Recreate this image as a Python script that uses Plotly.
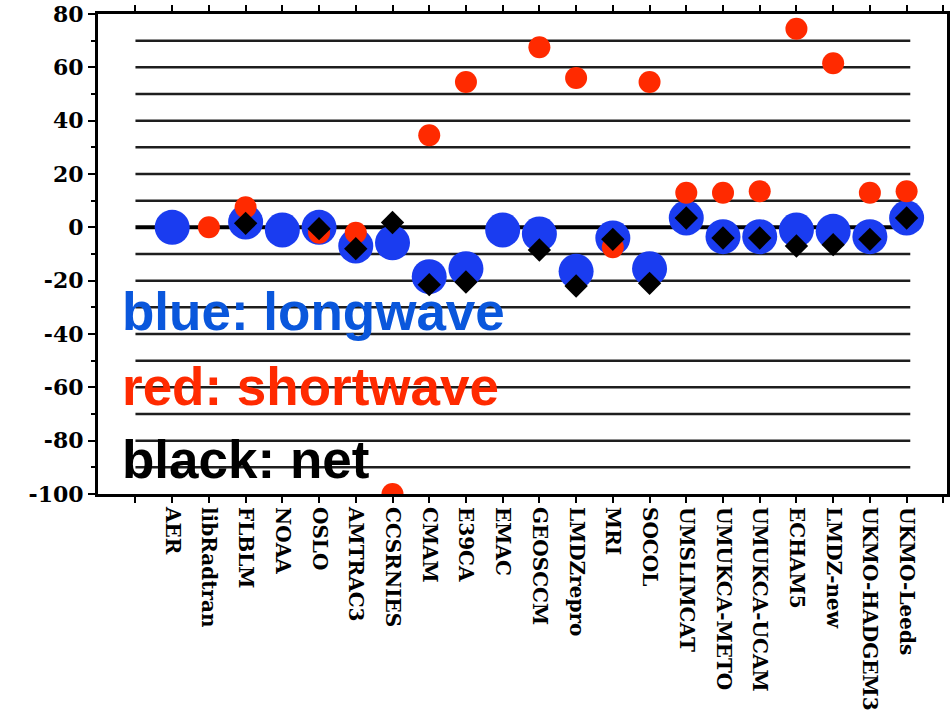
import plotly.graph_objects as go

# Radiative forcing components per model (W m-2)
models = ["AER", "libRadtran", "FLBLM", "NOAA", "OSLO", "AMTRAC3", "CCSRNIES", "CMAM",
          "E39CA", "EMAC", "GEOSCCM", "LMDZrepro", "MRI", "SOCOL", "UMSLIMCAT",
          "UMUKCA-METO", "UMUKCA-UCAM", "ECHAM5", "LMDZ-new", "UKMO-HADGEM3", "UKMO-Leeds"]
longwave = [0, None, 2, -1, 0, -7, -5.8, -18.5, -15.5, -1, -2.5, -16.5, -4, -15.5,
            3.5, -3.5, -3.5, -1, -1.5, -3.5, 3.5]
shortwave = [None, 0, 7.5, None, -2, -2, -100, 34.5, 54.5, None, 67.5, 56, -7.5, 54.5,
             13, 13, 13.5, 74.5, 61.5, 13, 13.5]
net = [None, None, 1.5, None, -0.5, -8, 1.8, -21.5, -20.5, None, -8.5, -22, -4.5, -21,
       3.5, -4, -4, -7, -6.5, -4.5, 3.5]

y_ticks = list(range(-100, 81, 20))
y_ticktext = [str(v) for v in y_ticks]
grid_levels = list(range(-90, 71, 10))
legend_lines = [("blue: longwave", "#0a57dc", -31.5),
                ("red: shortwave", "#ff2a00", -59.5),
                ("black: net", "#000000", -87.0)]

xpos = list(range(1, len(models) + 1))
serif_bold = dict(family="DejaVu Serif", size=20, color="black", weight="bold")

fig = go.Figure()
fig.add_trace(go.Scatter(x=xpos, y=longwave, mode="markers",
                         marker=dict(symbol="circle", size=35, color="#1a3cf0"),
                         name="longwave"))
fig.add_trace(go.Scatter(x=xpos, y=shortwave, mode="markers",
                         marker=dict(symbol="circle", size=22, color="#ff2a00"),
                         name="shortwave"))
fig.add_trace(go.Scatter(x=xpos, y=net, mode="markers",
                         marker=dict(symbol="diamond", size=18, color="black"),
                         name="net"))

# horizontal reference lines, stopping short of the frame
shapes = []
for lv in grid_levels:
    shapes.append(dict(type="line", xref="x", yref="y", x0=0, x1=len(models) + 0.1,
                       y0=lv, y1=lv, layer="below",
                       line=dict(color="black" if lv == 0 else "#1e1e1e",
                                 width=4 if lv == 0 else 2.5)))

annotations = []
for text, color, yv in legend_lines:
    annotations.append(dict(text=text, xref="x", yref="y", x=-0.42, y=yv,
                            xanchor="left", yanchor="middle", showarrow=False,
                            font=dict(family="Liberation Sans", size=53, color=color,
                                      weight="bold")))

fig.update_layout(
    width=950, height=713,
    margin=dict(l=98, r=3, t=14, b=219),
    plot_bgcolor="white", paper_bgcolor="white",
    showlegend=False,
    shapes=shapes,
    annotations=annotations,
)
fig.update_xaxes(
    range=[-1.02, 22.1],
    tickvals=list(range(0, len(models) + 2)),
    ticktext=[""] + models + [""],
    tickangle=90, tickfont=serif_bold,
    ticks="outside", ticklen=6, tickwidth=2, tickcolor="black",
    showline=True, linewidth=3, linecolor="black", mirror="ticks",
    showgrid=False, zeroline=False, automargin=False,
)
fig.update_yaxes(
    range=[-100, 80],
    tickvals=y_ticks, ticktext=y_ticktext,
    tickfont=dict(family="DejaVu Serif", size=22, color="black", weight="bold"),
    ticks="outside", ticklen=7, tickwidth=2, tickcolor="black",
    minor=dict(dtick=10, tick0=0, ticks="outside", ticklen=4, tickwidth=2,
               tickcolor="black"),
    showline=True, linewidth=3, linecolor="black", mirror="ticks",
    showgrid=False, zeroline=False, automargin=False,
)

fig.write_html("out.html")
